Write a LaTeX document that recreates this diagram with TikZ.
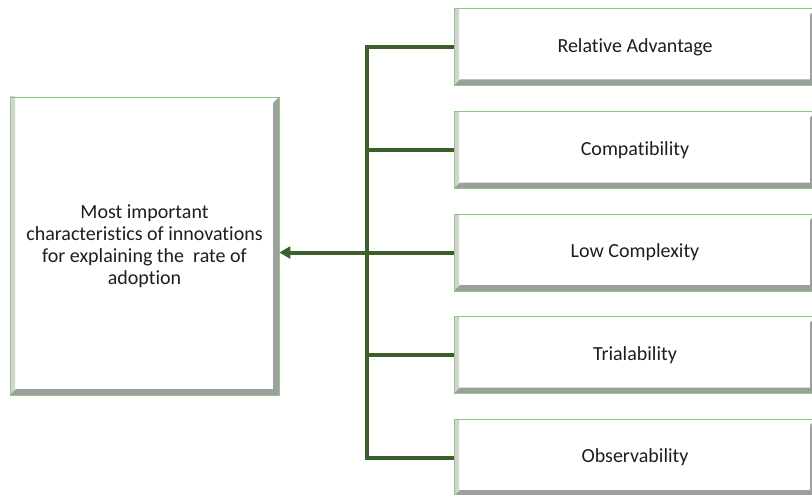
\documentclass[tikz,border=0pt]{standalone}
\usepackage{fontspec}
\setmainfont{Carlito}[Ligatures={NoCommon,NoContextual}]
\usetikzlibrary{arrows.meta}

\definecolor{boxgreen}{HTML}{8CC97A}
\definecolor{linkgreen}{HTML}{3D5F2C}
\definecolor{textgray}{HTML}{1E1E1E}
\definecolor{bevelgray}{HTML}{9C9EA0}

\tikzset{
  bevelbox/.style={draw=boxgreen, fill=white, line width=0.8pt, inner sep=0pt,
    align=center, text=textgray, font=\fontsize{20}{22}\selectfont,
    path picture={
      \shade[left color=gray!35, right color=white] (path picture bounding box.south west)
        rectangle ([xshift=5pt]path picture bounding box.north west);
      \fill[bevelgray] (path picture bounding box.south west) -- (path picture bounding box.south east)
        -- (path picture bounding box.north east) -- ([xshift=-6pt,yshift=-6pt]path picture bounding box.north east)
        -- ([xshift=-6pt,yshift=6pt]path picture bounding box.south east)
        -- ([xshift=6pt,yshift=6pt]path picture bounding box.south west) -- cycle;
    }},
  rightbox/.style={bevelbox, minimum width=362pt, minimum height=77pt},
  link/.style={draw=linkgreen, line width=4pt}
}

\begin{document}
\begin{tikzpicture}[x=1pt,y=-1pt]
  \useasboundingbox (0,0) rectangle (812,495);
  \clip (0,0) rectangle (812,495);

  \node[bevelbox, minimum width=269pt, minimum height=298pt] (main) at (144.5,246)
    {Most important\\characteristics of innovations\\for explaining the\ \ rate of\\adoption};

  \node[rightbox] (adv)    at (635,47)    {Relative Advantage};
  \node[rightbox] (compat) at (635,150)   {Compatibility};
  \node[rightbox] (cplx)   at (635,252.5) {Low Complexity};
  \node[rightbox] (trial)  at (635,355)   {Trialability};
  \node[rightbox] (obs)    at (635,457.5) {Observability};

  \coordinate (hub) at (367,252.5);
  \foreach \b in {adv,compat,trial,obs}
    \draw[link] (\b.west) -| (hub);
  \draw[link,-{Triangle[length=11pt,width=12pt]}] (cplx.west) -- (main.east |- cplx.west);
\end{tikzpicture}
\end{document}
